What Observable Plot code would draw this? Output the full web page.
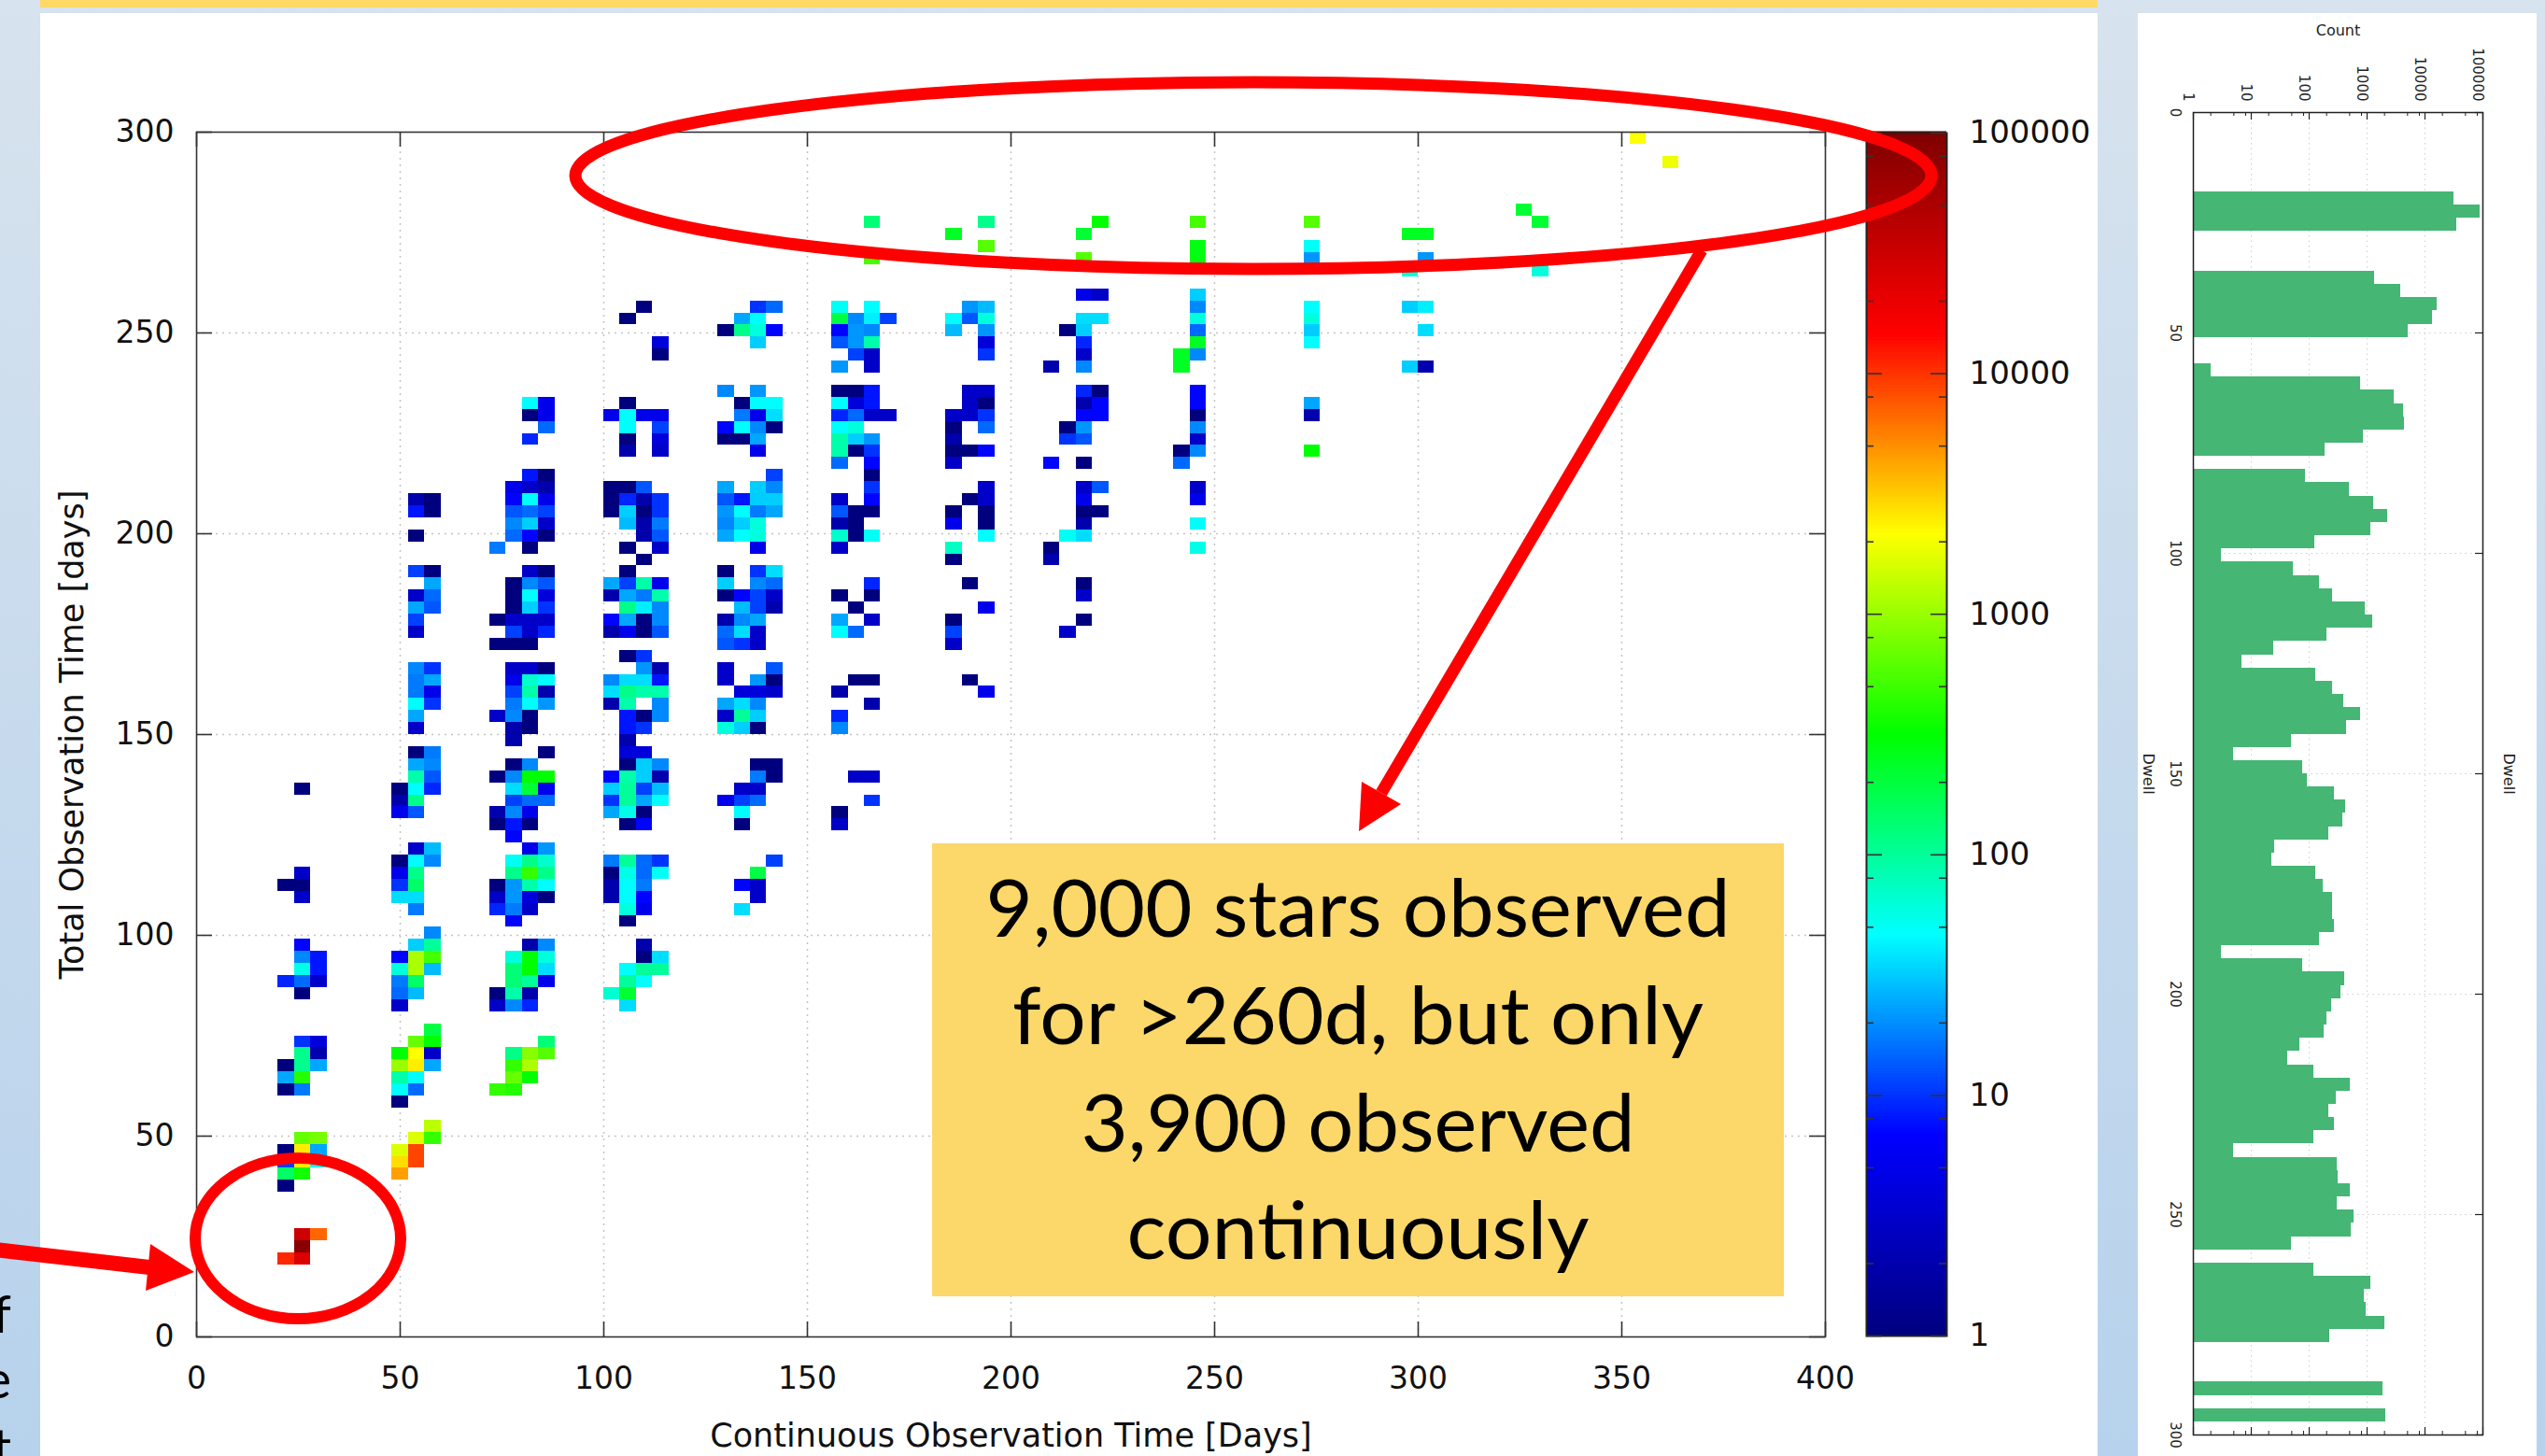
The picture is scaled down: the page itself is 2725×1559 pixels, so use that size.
<!DOCTYPE html>
<html><head><meta charset="utf-8">
<script src="https://cdn.jsdelivr.net/npm/d3@7"></script>
<script src="https://cdn.jsdelivr.net/npm/@observablehq/plot@0.6"></script>
<style>
html,body{margin:0;padding:0;}
body{width:2725px;height:1559px;overflow:hidden;position:relative;background:linear-gradient(180deg,#d7e3ee 0%,#b7d2ec 100%);font-family:"DejaVu Sans",sans-serif;}
.abs{position:absolute;}
#topbar{left:43px;top:0;width:2203px;height:8px;background:#ffd966;}
#panelMain{left:43px;top:14px;width:2203px;height:1545px;background:#fff;}
#panelHist{left:2289px;top:14px;width:427px;height:1545px;background:#fff;}
</style></head><body>
<div id="topbar" class="abs"></div>
<div id="panelMain" class="abs"></div>
<div id="panelHist" class="abs"></div>
<div id="main" class="abs" style="left:0;top:0;width:2000px;height:1559px"></div>
<div id="cbar" class="abs" style="left:1960px;top:0;width:340px;height:1559px"></div>
<div id="hist" class="abs" style="left:2289px;top:0;width:427px;height:1559px"></div>
<svg id="overlay" class="abs" style="left:0;top:0;pointer-events:none" width="2725" height="1559">
  <g font-family="Lato, 'Open Sans', sans-serif" font-size="56" fill="#000" text-anchor="end">
    <text x="12" y="1427">of</text>
    <text x="12" y="1497">the</text>
    <text x="12" y="1570">at</text>
  </g>
  <rect x="998" y="903" width="912" height="485" fill="#fcd86a"/>
  <g font-family="Lato, 'Open Sans', sans-serif" font-size="86" fill="#000" text-anchor="middle">
    <text x="1454" y="1003" textLength="797" lengthAdjust="spacingAndGlyphs">9,000 stars observed</text>
    <text x="1454" y="1118" textLength="740" lengthAdjust="spacingAndGlyphs">for &gt;260d, but only</text>
    <text x="1454" y="1233" textLength="593" lengthAdjust="spacingAndGlyphs">3,900 observed</text>
    <text x="1454" y="1348" textLength="495" lengthAdjust="spacingAndGlyphs">continuously</text>
  </g>
  <ellipse cx="1342" cy="188" rx="726" ry="100" fill="none" stroke="#ff0000" stroke-width="13"/>
  <line x1="1822" y1="268" x2="1479" y2="849" stroke="#ff0000" stroke-width="13"/>
  <polygon points="1455,890 1458,837 1500,861" fill="#ff0000"/>
  <ellipse cx="319" cy="1326" rx="110" ry="86" fill="none" stroke="#ff0000" stroke-width="12"/>
  <line x1="-5" y1="1338" x2="160" y2="1357" stroke="#ff0000" stroke-width="16"/>
  <polygon points="208,1362 161,1332 156,1382" fill="#ff0000"/>
</svg>
<script>
// ---------- Heatmap data: [continuous-time bin start, total-time bin start, count] ----------
const xBin = 4, yBin = 3;
const sector1 = [[24,135,1],[24,114,3],[20,111,1],[24,111,1],[24,108,3],[24,96,7],[24,93,19],[28,93,8],[24,90,55],[28,90,8],[20,87,9],[24,87,15],[28,87,3],[24,84,1],[24,72,10],[28,72,4],[24,69,110],[28,69,2],[20,66,1],[24,66,110],[28,66,24],[20,63,24],[24,63,410],[20,60,1],[24,60,17],[24,48,680],[28,48,775],[20,45,1],[24,45,2450],[28,45,24],[20,42,11],[24,42,2450],[28,42,50],[20,39,147],[24,39,360],[20,36,1],[24,24,31600],[28,24,6800],[24,21,88000],[20,18,11000],[24,18,24600]];
const sector2 = [[52,207,2],[56,207,1],[52,204,8],[56,204,1],[52,198,1],[52,189,11],[56,189,1],[56,186,24],[52,183,3],[56,183,15],[52,180,24],[56,180,13],[52,177,11],[52,174,3],[52,165,19],[56,165,10],[52,162,17],[56,162,24],[52,159,17],[56,159,5],[52,156,46],[56,156,10],[52,153,24],[52,150,3],[52,144,1],[56,144,17],[52,141,24],[56,141,19],[52,138,88],[56,138,13],[48,135,1],[52,135,46],[56,135,9],[48,132,2],[52,132,113],[48,129,5],[52,129,13],[52,120,3],[56,120,28],[48,117,1],[52,117,46],[56,117,19],[48,114,5],[52,114,113],[48,111,10],[52,111,147],[48,108,36],[52,108,36],[52,105,17],[56,99,19],[52,96,32],[56,96,100],[48,93,7],[52,93,1140],[56,93,528],[48,90,60],[52,90,1140],[56,90,28],[48,87,17],[52,87,147],[48,84,15],[52,84,28],[48,81,3],[56,75,190],[52,72,680],[56,72,316],[48,69,316],[52,69,2150],[56,69,3],[48,66,1000],[52,66,2450],[56,66,24],[48,63,88],[52,63,46],[48,60,46],[52,60,15],[48,57,1],[56,51,1290],[52,48,1670],[56,48,464],[48,45,1670],[52,45,8800],[48,42,2780],[52,42,8800],[48,39,4400]];
const sector3 = [[80,231,46],[84,231,5],[80,228,1],[84,228,5],[84,225,15],[80,222,9],[80,213,8],[84,213,1],[76,210,5],[80,210,3],[84,210,2],[76,207,7],[80,207,46],[84,207,5],[76,204,13],[80,204,15],[84,204,11],[76,201,19],[80,201,32],[84,201,3],[76,198,15],[80,198,7],[84,198,1],[72,195,17],[80,195,1],[80,189,3],[84,189,1],[76,186,1],[80,186,19],[84,186,13],[76,183,1],[80,183,46],[84,183,4],[76,180,1],[80,180,32],[84,180,10],[72,177,1],[76,177,3],[80,177,3],[84,177,3],[76,174,11],[80,174,3],[84,174,9],[72,171,1],[76,171,1],[80,171,1],[76,165,3],[80,165,3],[84,165,1],[76,162,5],[80,162,68],[84,162,46],[76,159,11],[80,159,88],[84,159,2],[76,156,17],[80,156,46],[84,156,21],[72,153,3],[76,153,19],[80,153,1],[76,150,2],[80,150,1],[76,147,2],[84,144,1],[76,141,1],[80,141,19],[72,138,1],[76,138,19],[80,138,316],[84,138,316],[76,135,36],[80,135,215],[84,135,5],[76,132,11],[80,132,15],[84,132,15],[72,129,2],[76,129,19],[80,129,5],[72,126,1],[76,126,8],[80,126,1],[76,123,7],[80,120,5],[84,120,21],[76,117,50],[80,117,113],[84,117,68],[76,114,113],[80,114,464],[84,114,113],[72,111,1],[76,111,21],[80,111,88],[84,111,46],[72,108,3],[76,108,21],[80,108,4],[84,108,1],[72,105,9],[76,105,17],[80,105,3],[76,102,7],[80,96,2],[84,96,19],[76,93,60],[80,93,316],[84,93,60],[76,90,129],[80,90,316],[84,90,36],[76,87,129],[80,87,100],[84,87,5],[72,84,1],[76,84,88],[80,84,2],[72,81,3],[76,81,19],[80,81,9],[84,72,129],[76,69,113],[80,69,880],[84,69,600],[76,66,464],[80,66,1140],[76,63,680],[80,63,316],[72,60,464],[76,60,410]];
const sector4 = [[108,255,1],[104,252,1],[112,246,4],[112,243,1],[104,231,1],[100,228,5],[104,228,46],[108,228,5],[112,228,5],[104,225,46],[112,225,11],[104,222,1],[112,222,4],[104,219,2],[112,219,3],[100,210,1],[104,210,1],[108,210,13],[100,207,1],[104,207,9],[108,207,2],[112,207,10],[100,204,1],[104,204,32],[108,204,1],[112,204,10],[104,201,28],[108,201,2],[112,201,17],[108,198,2],[112,198,13],[104,195,1],[112,195,3],[108,192,1],[104,189,1],[100,186,24],[104,186,11],[108,186,88],[112,186,5],[100,183,2],[104,183,24],[108,183,17],[112,183,88],[104,180,113],[108,180,41],[112,180,19],[100,177,7],[104,177,24],[108,177,1],[112,177,19],[100,174,2],[104,174,5],[108,174,1],[112,174,13],[104,168,1],[108,168,10],[108,165,21],[112,165,2],[100,162,19],[104,162,36],[108,162,36],[112,162,8],[100,159,36],[104,159,113],[108,159,88],[112,159,88],[100,156,2],[104,156,88],[112,156,19],[104,153,8],[108,153,1],[112,153,19],[104,150,8],[108,150,10],[104,147,2],[104,144,4],[108,144,4],[104,141,1],[108,141,32],[112,141,19],[100,138,7],[104,138,88],[108,138,32],[112,138,2],[100,135,32],[104,135,100],[108,135,11],[112,135,28],[100,132,10],[104,132,100],[108,132,24],[112,132,46],[100,129,24],[104,129,55],[108,129,1],[104,126,1],[108,126,7],[100,117,17],[104,117,100],[108,117,15],[112,117,10],[100,114,1],[104,114,55],[108,114,15],[112,114,50],[100,111,2],[104,111,46],[108,111,17],[100,108,2],[104,108,46],[108,108,7],[104,105,60],[108,105,5],[104,102,1],[108,96,2],[108,93,1],[112,93,36],[104,90,46],[108,90,100],[112,90,100],[104,87,100],[108,87,46],[100,84,65],[104,84,215],[104,81,36]];
const sector5 = [[136,255,10],[140,255,15],[132,252,24],[136,252,46],[128,249,1],[132,249,113],[136,249,60],[140,249,7],[136,246,32],[128,234,19],[136,234,21],[132,231,1],[136,231,46],[140,231,46],[132,228,17],[136,228,5],[140,228,36],[128,225,7],[132,225,46],[136,225,19],[140,225,1],[128,222,1],[132,222,1],[136,222,24],[136,219,5],[140,213,11],[128,210,24],[136,210,32],[140,210,19],[128,207,13],[132,207,8],[136,207,32],[140,207,32],[128,204,21],[132,204,46],[136,204,17],[140,204,24],[128,201,19],[132,201,32],[136,201,60],[128,198,24],[132,198,46],[136,198,60],[136,195,5],[128,189,1],[136,189,10],[140,189,36],[128,186,32],[136,186,19],[140,186,15],[128,183,1],[132,183,7],[136,183,11],[140,183,3],[132,180,28],[136,180,11],[140,180,2],[128,177,2],[132,177,19],[136,177,24],[128,174,15],[132,174,36],[136,174,3],[128,171,13],[132,171,10],[136,171,3],[128,165,3],[140,165,13],[128,162,3],[136,162,21],[140,162,1],[132,159,4],[136,159,4],[140,159,3],[128,156,24],[132,156,36],[136,156,19],[128,153,3],[132,153,100],[136,153,32],[128,150,60],[132,150,32],[136,150,1],[136,141,1],[140,141,1],[136,138,17],[140,138,1],[132,135,3],[136,135,3],[128,132,5],[132,132,11],[136,132,15],[132,129,46],[132,126,1],[140,117,11],[136,114,190],[132,111,7],[136,111,3],[136,108,3],[132,105,36]];
const sector6 = [[164,276,129],[164,267,528],[156,255,50],[164,255,46],[156,252,190],[160,252,19],[164,252,41],[168,252,11],[156,249,7],[160,249,21],[164,249,19],[156,246,13],[160,246,21],[164,246,88],[160,243,11],[164,243,3],[156,240,21],[164,240,3],[156,234,1],[160,234,1],[164,234,8],[156,231,46],[160,231,4],[164,231,8],[156,228,9],[160,228,15],[164,228,3],[168,228,3],[156,225,46],[160,225,60],[156,222,88],[160,222,32],[164,222,21],[156,219,88],[160,219,1],[164,219,10],[156,216,15],[164,216,7],[164,213,1],[164,210,10],[156,207,3],[164,207,7],[156,204,13],[160,204,1],[164,204,1],[156,201,2],[160,201,1],[156,198,68],[160,198,1],[164,198,50],[156,195,3],[164,186,9],[156,183,1],[164,183,1],[160,180,1],[156,177,24],[164,177,3],[156,174,46],[160,174,15],[160,162,1],[164,162,1],[156,159,2],[164,156,2],[156,153,9],[156,150,19],[160,138,3],[164,138,3],[164,132,10],[156,129,1],[156,126,3]];
const sector7 = [[192,276,110],[184,273,245],[192,270,600],[188,255,21],[192,255,28],[184,252,46],[188,252,13],[192,252,60],[184,249,28],[192,249,21],[192,246,4],[192,243,10],[188,234,3],[192,234,3],[188,231,3],[192,231,1],[184,228,3],[188,228,3],[192,228,10],[184,225,1],[192,225,15],[184,222,2],[184,219,1],[188,219,1],[192,219,7],[184,216,3],[192,210,3],[188,207,1],[192,207,3],[184,204,1],[192,204,1],[184,201,5],[192,201,1],[192,198,46],[184,195,72],[184,192,1],[188,186,1],[192,180,5],[184,177,1],[184,174,11],[184,171,3],[188,162,1],[192,159,5]];
const sector8 = [[220,276,316],[216,273,215],[216,267,600],[216,258,5],[220,258,3],[216,252,36],[220,252,36],[212,249,1],[216,249,32],[216,246,9],[216,243,3],[208,240,2],[216,240,19],[216,234,9],[220,234,1],[216,231,2],[220,231,7],[216,228,7],[220,228,7],[212,225,1],[216,225,21],[212,222,10],[216,222,13],[208,216,7],[216,216,1],[216,210,3],[220,210,13],[216,207,5],[216,204,1],[220,204,1],[216,201,2],[212,198,50],[216,198,36],[208,195,1],[208,192,2],[216,186,1],[216,183,3],[216,177,1],[212,174,3]];
const sector9 = [[244,276,528],[244,270,280],[244,267,280],[244,258,32],[244,255,19],[244,252,60],[244,249,15],[244,246,245],[240,243,245],[244,243,19],[240,240,245],[244,234,7],[244,231,7],[244,228,1],[244,225,19],[244,222,3],[240,219,1],[244,219,19],[240,216,15],[244,210,3],[244,207,5],[244,201,46],[244,195,55]];
const sector10 = [[272,276,600],[272,270,50],[272,267,21],[272,255,46],[272,252,60],[272,249,32],[272,246,46],[272,231,24],[272,228,2],[272,219,316]];
const sector11to13 = [[296,273,245],[300,273,245],[300,267,21],[296,264,60],[296,255,32],[300,255,41],[300,249,36],[296,240,32],[300,240,2],[324,279,215],[328,276,215],[328,264,60],[352,297,2150],[360,291,1900]];

// ---------- Histogram (Dwell) data ----------
const dwellBins = [18,21,24,36,39,42,45,48,57,60,63,66,69,72,75,81,84,87,90,93,96,99,102,105,108,111,114,117,120,123,126,129,132,135,138,141,144,147,150,153,156,159,162,165,168,171,174,177,180,183,186,189,192,195,198,201,204,207,210,213,216,219,222,225,228,231,234,237,240,243,246,249,252,255,258,261,264,267,270,273,276,288,294];
const dwellCounts = [32000,89000,36000,1350,3800,16000,13500,5050,2,770,2900,4200,4450,850,190,87,490,1290,2250,1170,125,3,53,150,250,940,1250,200,24,7,130,250,400,770,445,50,5,78,94,276,425,385,218,25,23,131,174,253,253,276,150,3,78,405,350,240,200,180,68,42,120,505,290,218,276,120,5,305,320,505,305,590,535,49,1,120,1175,890,980,1990,230,1900,2080];

// ---------- Ticks / labels ----------
const xTicks = [0,50,100,150,200,250,300,350,400];
const yTicks = [0,50,100,150,200,250,300];
const xGrid = [50,100,150,200,250,300,350];
const yGrid = [50,100,150,200,250];
const cbMajor = [1,10,100,1000,10000,100000];
const cbMinor = [2,5,8,20,50,80,200,500,800,2000,5000,8000,20000,50000,80000];
const histDwellTicks = [0,50,100,150,200,250,300];
const histDwellGrid = [50,100,150,200,250];
const histCountGrid = [10,100,1000,10000];

const xTitle = "Continuous Observation Time [Days]";
const yTitle = "Total Observation Time [days]";

const cells = [...sector1,...sector2,...sector3,...sector4,...sector5,...sector6,...sector7,...sector8,...sector9,...sector10,...sector11to13].map(([x,y,n]) => ({x, y, n}));
const hist = dwellBins.map((d, i) => ({d, n: dwellCounts[i]}));

const jet = d3.piecewise(d3.interpolateRgb, ["#00007f","#0000ff","#00ffff","#00ff00","#ffff00","#ff0000","#7f0000"]);
const colorScale = {type: "log", domain: [1, 100000], interpolate: jet};

const grid = {stroke: "#c4c4c4", strokeDasharray: "2,5", strokeWidth: 1.5};
const tk = {stroke: "#333", strokeWidth: 1.6};

// Main heatmap
const FW = 2000 - 210 - 46, FH = 1559 - 141 - 128;
const main = Plot.plot({
  width: 2000, height: 1559,
  marginLeft: 210, marginRight: 46, marginTop: 141, marginBottom: 128,
  x: {domain: [0, 400]},
  y: {domain: [0, 300]},
  color: colorScale,
  style: {background: "transparent", fontFamily: "DejaVu Sans", fontSize: "33px", color: "#111", maxWidth: "none"},
  marks: [
    Plot.ruleX(xGrid, grid),
    Plot.ruleY(yGrid, grid),
    Plot.rect(cells, {x1: "x", x2: d => d.x + xBin, y1: "y", y2: d => d.y + yBin, fill: "n", shapeRendering: "crispEdges"}),
    Plot.frame({stroke: "#333", strokeWidth: 1.6}),
    Plot.ruleX(xTicks, {...tk, insetTop: FH - 16}),
    Plot.ruleX(xTicks, {...tk, insetBottom: FH - 16}),
    Plot.ruleY(yTicks, {...tk, insetRight: FW - 17}),
    Plot.ruleY(yTicks, {...tk, insetLeft: FW - 17}),
    Plot.axisX({anchor: "bottom", ticks: xTicks, tickSize: 0, tickPadding: 32, label: null}),
    Plot.axisY({anchor: "left", ticks: yTicks, tickSize: 0, tickPadding: 24, label: null}),
    Plot.text([xTitle], {frameAnchor: "bottom", dy: 117, fontSize: 35, textAnchor: "middle"}),
    Plot.text([yTitle], {frameAnchor: "left", dx: -133, rotate: -90, fontSize: 35, textAnchor: "middle"})
  ]
});
document.getElementById("main").append(main);

// Colour bar
const steps = d3.range(400);
const cbW = 86;
const cbar = Plot.plot({
  width: 340, height: 1559,
  marginLeft: 38, marginRight: 216, marginTop: 142, marginBottom: 129,
  x: {domain: [0, 1], axis: null},
  y: {type: "log", domain: [1, 100000], axis: null},
  color: colorScale,
  style: {background: "transparent", fontFamily: "DejaVu Sans", fontSize: "34px", color: "#111", maxWidth: "none"},
  marks: [
    Plot.rect(steps, {x1: 0, x2: 1, y1: i => 10 ** (5 * i / 400), y2: i => 10 ** (5 * (i + 1.5) / 400), fill: i => 10 ** (5 * (i + 0.5) / 400)}),
    Plot.frame({stroke: "#222", strokeWidth: 2}),
    Plot.ruleY(cbMajor, {...tk, insetRight: cbW - 17}),
    Plot.ruleY(cbMajor, {...tk, insetLeft: cbW - 17}),
    Plot.ruleY(cbMinor, {...tk, insetRight: cbW - 8}),
    Plot.ruleY(cbMinor, {...tk, insetLeft: cbW - 8}),
    Plot.axisY({anchor: "right", ticks: cbMajor, tickSize: 0, tickPadding: 24, tickFormat: d => String(d), label: null})
  ]
});
document.getElementById("cbar").append(cbar);

// Histogram panel (rotated: dwell downward, count to the right)
const hFW = 427 - 59 - 58, hFH = 1559 - 120 - 23;
const histPlot = Plot.plot({
  width: 427, height: 1559,
  marginLeft: 59, marginRight: 58, marginTop: 120, marginBottom: 23,
  x: {type: "log", domain: [1, 100000], axis: null},
  y: {domain: [0, 300], reverse: true, axis: null},
  style: {background: "transparent", fontFamily: "DejaVu Sans", fontSize: "15px", color: "#222", maxWidth: "none"},
  marks: [
    Plot.ruleX(histCountGrid, {stroke: "#cfcfcf", strokeDasharray: "1.5,4", strokeWidth: 1}),
    Plot.ruleY(histDwellGrid, {stroke: "#cfcfcf", strokeDasharray: "1.5,4", strokeWidth: 1}),
    Plot.rect(hist, {x1: 1, x2: "n", y1: "d", y2: d => d.d + 3, fill: "#45b674", shapeRendering: "crispEdges"}),
    Plot.frame({stroke: "#222", strokeWidth: 1.5}),
    Plot.ruleX(cbMajor, {stroke: "#222", strokeWidth: 1.2, insetBottom: hFH - 8}),
    Plot.ruleX(cbMajor, {stroke: "#222", strokeWidth: 1.2, insetTop: hFH - 8}),
    Plot.ruleX(cbMinor, {stroke: "#222", strokeWidth: 1, insetBottom: hFH - 4}),
    Plot.ruleX(cbMinor, {stroke: "#222", strokeWidth: 1, insetTop: hFH - 4}),
    Plot.ruleY(histDwellTicks, {stroke: "#222", strokeWidth: 1.2, insetLeft: hFW - 8}),
    Plot.text(cbMajor, {x: d => d, text: d => String(d), frameAnchor: "top", dy: -12, rotate: 90, textAnchor: "end"}),
    Plot.text(histDwellTicks, {y: d => d, text: d => String(d), frameAnchor: "left", dx: -20, rotate: 90, textAnchor: "middle"}),
    Plot.text(["Count"], {frameAnchor: "top", dy: -94, fontSize: 16, textAnchor: "middle"}),
    Plot.text(["Dwell"], {frameAnchor: "left", dx: -48, rotate: 90, fontSize: 16, textAnchor: "middle"}),
    Plot.text(["Dwell"], {frameAnchor: "right", dx: 28, rotate: 90, fontSize: 16, textAnchor: "middle"})
  ]
});
document.getElementById("hist").append(histPlot);
</script>
</body></html>
